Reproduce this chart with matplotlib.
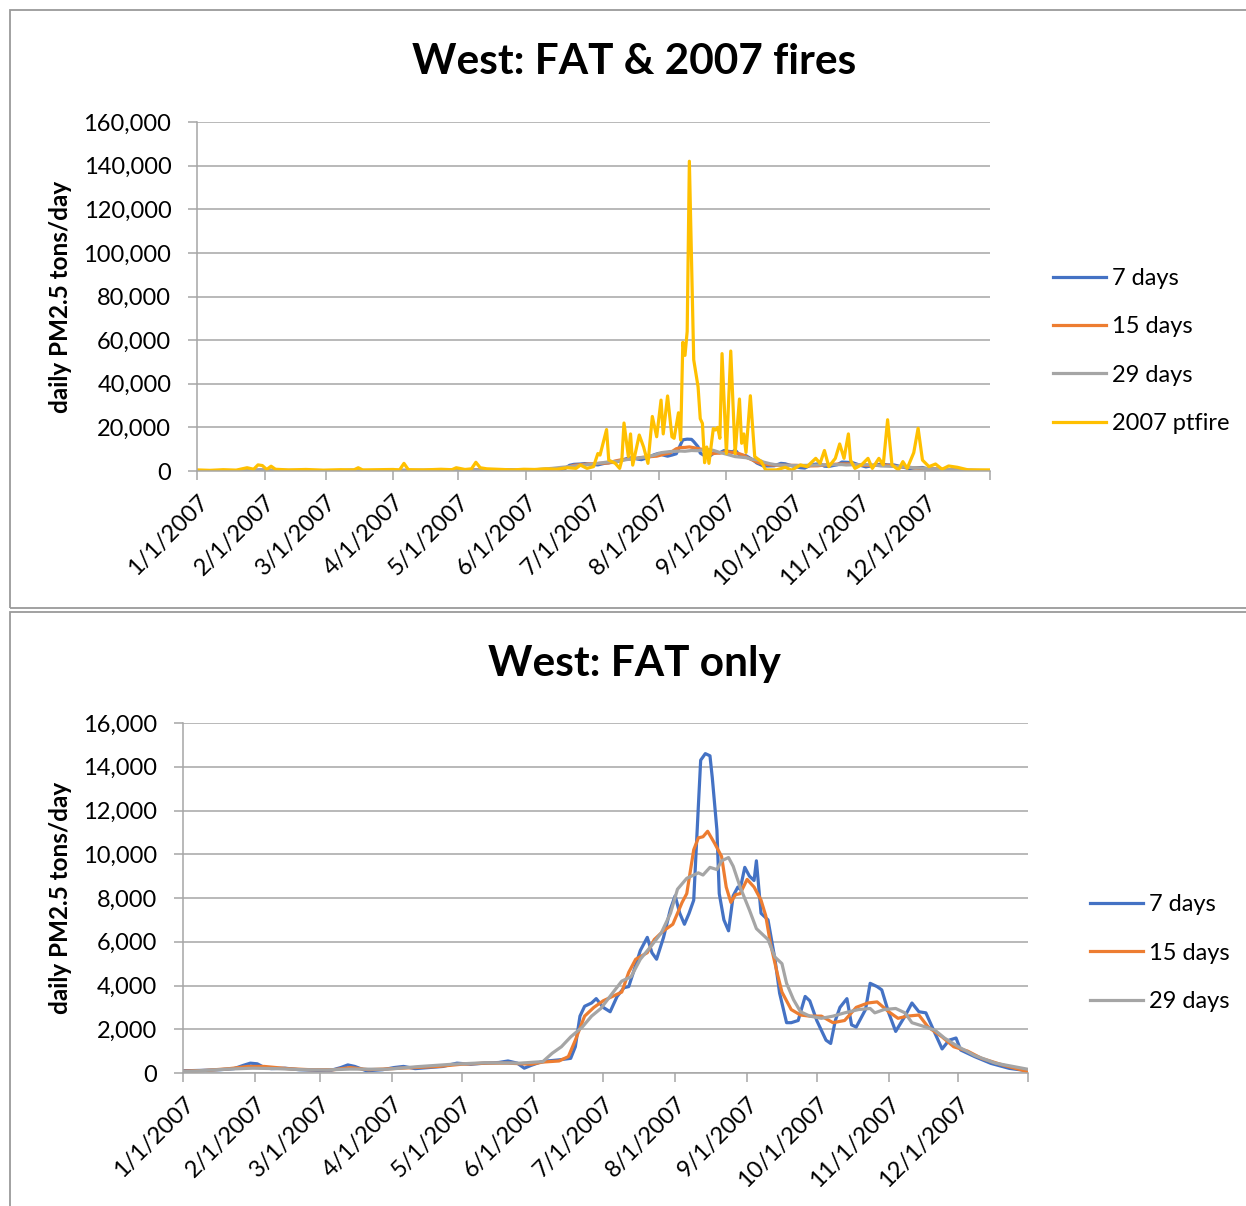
import numpy as np
import matplotlib.pyplot as plt
from matplotlib.patches import Rectangle
from matplotlib.ticker import FuncFormatter, MultipleLocator

plt.rcParams['font.family'] = ['Lato', 'DejaVu Sans']

# x positions are day offsets from 1/1/2007, values in thousand tons/day
month_days = [0, 31, 59, 90, 120, 151, 181, 212, 243, 273, 304, 334]
month_labels = ['1/1/2007', '2/1/2007', '3/1/2007', '4/1/2007', '5/1/2007', '6/1/2007',
                '7/1/2007', '8/1/2007', '9/1/2007', '10/1/2007', '11/1/2007', '12/1/2007']
last_day = 364

days7 = [0, 8, 16, 22, 26, 29, 32, 35, 38, 44, 50, 58, 64, 68, 71, 74, 79, 86, 91, 95,
         100, 106, 112, 118, 124, 130, 136, 140, 144, 147, 150, 154, 157, 162, 167, 169, 171, 173, 176, 178,
         181, 184, 187, 190, 192, 194, 197, 200, 202, 204, 207, 210, 212, 214, 216, 218, 220, 222, 223, 225,
         227, 228, 230, 231, 233, 235, 237, 239, 240, 242, 244, 246, 247, 249, 252, 255, 257, 260, 262, 265,
         268, 270, 273, 277, 279, 281, 283, 286, 288, 290, 294, 296, 299, 301, 304, 307, 311, 314, 317, 320,
         324, 327, 330, 333, 335, 341, 348, 356, 364]
fat7 = [0.10, 0.12, 0.15, 0.20, 0.35, 0.45, 0.42, 0.25, 0.20, 0.22, 0.15, 0.12, 0.13, 0.25, 0.37, 0.30, 0.10, 0.15, 0.25, 0.30,
        0.20, 0.25, 0.30, 0.45, 0.40, 0.45, 0.48, 0.55, 0.45, 0.22, 0.35, 0.50, 0.55, 0.60, 0.67, 1.2, 2.6, 3.05, 3.2, 3.4,
        3.0, 2.8, 3.5, 3.9, 3.95, 4.6, 5.6, 6.2, 5.5, 5.2, 6.2, 7.5, 8.1, 7.3, 6.8, 7.3, 7.9, 12.2, 14.3, 14.6,
        14.5, 13.5, 11.1, 8.2, 7.0, 6.5, 8.1, 8.5, 8.4, 9.4, 9.0, 8.8, 9.7, 7.3, 7.0, 5.2, 3.65, 2.3, 2.3, 2.4,
        3.5, 3.3, 2.4, 1.5, 1.35, 2.4, 3.0, 3.4, 2.2, 2.1, 2.9, 4.1, 3.95, 3.8, 2.75, 1.9, 2.6, 3.2, 2.8, 2.75,
        1.8, 1.1, 1.5, 1.6, 1.05, 0.75, 0.44, 0.21, 0.10]

days15 = [0, 10, 20, 28, 35, 45, 55, 65, 72, 80, 90, 100, 110, 120, 130, 140, 150, 155, 162, 166,
          169, 173, 177, 181, 185, 189, 192, 195, 200, 203, 207, 211, 215, 217, 220, 222, 224, 226, 229, 232,
          234, 236, 238, 240, 243, 246, 249, 251, 253, 256, 258, 262, 266, 270, 275, 280, 285, 290, 295, 299,
          304, 308, 312, 317, 321, 327, 332, 338, 344, 353, 364]
fat15 = [0.08, 0.12, 0.20, 0.30, 0.30, 0.20, 0.15, 0.15, 0.25, 0.15, 0.20, 0.25, 0.30, 0.40, 0.45, 0.45, 0.40, 0.50, 0.55, 0.75,
         1.5, 2.6, 3.0, 3.3, 3.5, 3.7, 4.6, 5.2, 5.5, 6.1, 6.5, 6.8, 7.8, 8.2, 10.2, 10.75, 10.8, 11.05, 10.5, 9.9,
         8.5, 7.8, 8.15, 8.2, 8.85, 8.5, 7.9, 7.2, 5.95, 4.55, 3.7, 2.9, 2.65, 2.6, 2.6, 2.3, 2.4, 3.0, 3.2, 3.25,
         2.8, 2.5, 2.6, 2.65, 2.1, 1.65, 1.2, 1.0, 0.67, 0.37, 0.06]

days29 = [0, 10, 20, 30, 40, 52, 62, 72, 88, 101, 116, 130, 145, 152, 155, 159, 163, 167, 172, 176,
          180, 185, 189, 193, 197, 202, 206, 210, 213, 217, 222, 224, 227, 230, 232, 235, 237, 240, 244, 247,
          252, 255, 258, 260, 263, 266, 270, 275, 280, 285, 291, 296, 298, 302, 307, 311, 314, 320, 324, 328,
          334, 341, 350, 364]
fat29 = [0.06, 0.12, 0.18, 0.22, 0.20, 0.15, 0.14, 0.18, 0.17, 0.29, 0.40, 0.47, 0.45, 0.50, 0.52, 0.9, 1.2, 1.65, 2.1, 2.6,
         2.95, 3.65, 4.2, 4.4, 5.2, 5.85, 6.4, 7.3, 8.4, 8.9, 9.15, 9.05, 9.4, 9.3, 9.7, 9.85, 9.45, 8.5, 7.45, 6.6,
         6.1, 5.3, 5.0, 4.1, 3.35, 2.8, 2.6, 2.5, 2.6, 2.75, 2.9, 2.95, 2.75, 2.9, 2.95, 2.75, 2.3, 2.1, 1.95, 1.6,
         1.2, 0.8, 0.45, 0.17]

days_pt = [0, 6, 12, 18, 23, 26, 28, 30, 32, 34, 36, 42, 50, 58, 66, 72, 74, 76, 84, 90,
           93, 95, 97, 104, 112, 117, 119, 123, 126, 128, 130, 133, 138, 145, 150, 155, 160, 165, 170, 174,
           176, 179, 182, 184, 185, 188, 189, 192, 194, 195, 196, 198, 199, 200, 203, 205, 207, 209, 211, 213,
           214, 216, 218, 219, 221, 222, 223, 224, 225, 226, 228, 230, 231, 232, 233, 234, 235, 237, 238, 239,
           240, 241, 243, 245, 247, 249, 250, 251, 252, 254, 256, 259, 261, 266, 270, 273, 277, 280, 284, 286,
           288, 290, 293, 295, 297, 299, 300, 302, 305, 308, 310, 313, 315, 317, 319, 322, 324, 326, 329, 331,
           333, 336, 339, 342, 345, 349, 354, 364]
ptfire = [0.5, 0.3, 0.6, 0.4, 1.5, 0.8, 2.8, 2.5, 0.7, 2.2, 0.8, 0.5, 0.7, 0.4, 0.6, 0.5, 1.5, 0.5, 0.6, 0.7,
          0.5, 3.5, 0.6, 0.5, 0.8, 0.6, 1.5, 0.7, 1.0, 4.0, 1.5, 1.0, 0.8, 0.5, 0.8, 0.7, 1.0, 0.8, 1.5, 1.2,
          2.7, 1.2, 2.0, 8.0, 7.3, 19.0, 5.0, 3.5, 1.2, 5.0, 22.0, 6.6, 17.0, 2.7, 16.5, 11.0, 3.5, 25.0, 15.7, 32.5,
          17.0, 34.4, 15.7, 15.0, 26.7, 14.2, 59.0, 53.0, 64.0, 142.0, 51.0, 38.6, 24.0, 21.8, 3.8, 11.0, 3.5, 19.5, 18.8, 20.0,
          15.0, 53.8, 8.0, 55.0, 8.0, 33.0, 12.7, 17.0, 8.5, 34.5, 6.6, 4.3, 0.5, 0.5, 1.7, 0.4, 2.8, 2.0, 5.8, 3.5,
          9.4, 2.0, 5.8, 12.4, 5.8, 17.0, 5.0, 1.2, 2.8, 5.8, 1.2, 5.8, 2.8, 23.5, 2.8, 0.5, 4.3, 1.2, 8.4, 19.6,
          5.0, 2.0, 3.2, 0.8, 2.3, 1.7, 0.5, 0.5]

BLUE, ORANGE, GRAY, GOLD = '#4472C4', '#ED7D31', '#A5A5A5', '#FFC000'
GRID = '#A6A6A6'
LW = 2.3

W, H = 1246, 1206
fig = plt.figure(figsize=(W / 100, H / 100), dpi=100)


def px_axes(left, top, right, bottom):
    return fig.add_axes([left / W, 1 - bottom / H, (right - left) / W, (bottom - top) / H])


def style_axes(ax, ymax, ystep):
    ax.set_xlim(0, last_day)
    ax.set_ylim(0, ymax)
    ax.yaxis.set_major_locator(MultipleLocator(ystep))
    ax.yaxis.set_major_formatter(FuncFormatter(lambda v, p: f'{v:,.0f}'))
    ax.set_xticks(month_days + [last_day])
    ax.set_xticklabels(month_labels + [''], rotation=45, ha='right', va='top',
                       rotation_mode='anchor', fontsize=17)
    ax.grid(axis='y', color=GRID, lw=1.1)
    ax.set_axisbelow(True)
    for s in ['top', 'right']:
        ax.spines[s].set_visible(False)
    for s in ['left', 'bottom']:
        ax.spines[s].set_color(GRID)
        ax.spines[s].set_linewidth(1.1)
    ax.tick_params(axis='both', direction='out', length=6.5, width=1.1, color=GRID)
    ax.tick_params(axis='y', labelsize=17, pad=12)
    ax.tick_params(axis='x', pad=8)
    ax.set_ylabel('daily PM2.5 tons/day', fontsize=17.5, fontweight='bold')


# panel frames
fig.add_artist(Rectangle((10 / W, 1 - 608 / H), 1.2, 598 / H, transform=fig.transFigure,
                         fill=False, edgecolor='#9a9a9a', lw=1.3))
fig.add_artist(Rectangle((10 / W, -0.1), 1.2, 0.1 + 1 - 612 / H, transform=fig.transFigure,
                         fill=False, edgecolor='#9a9a9a', lw=1.3))

legend_kw = dict(loc='center left', frameon=False, fontsize=17, handlelength=2.25,
                 handletextpad=0.25, labelspacing=1.16, borderpad=0, borderaxespad=0)

# top panel
ax1 = px_axes(197, 122, 990, 471)
k = 1000
ax1.plot(days7, np.array(fat7) * k, color=BLUE, lw=LW, label='7 days')
ax1.plot(days15, np.array(fat15) * k, color=ORANGE, lw=LW, label='15 days')
ax1.plot(days29, np.array(fat29) * k, color=GRAY, lw=LW, label='29 days')
ax1.plot(days_pt, np.array(ptfire) * k, color=GOLD, lw=LW, label='2007 ptfire')
style_axes(ax1, 160000, 20000)
ax1.yaxis.set_label_coords(72 / W, 1 - 297 / H, transform=fig.transFigure)
fig.text(634 / W, 1 - 62 / H, 'West: FAT & 2007 fires', ha='center', va='center',
         fontsize=30.5, fontweight='bold')
fig.legend(handles=ax1.get_lines(), bbox_to_anchor=(1053 / W, 1 - 351 / H), **legend_kw)

# bottom panel
ax2 = px_axes(183, 723, 1028, 1073)
ax2.plot(days7, np.array(fat7) * k, color=BLUE, lw=LW, label='7 days')
ax2.plot(days15, np.array(fat15) * k, color=ORANGE, lw=LW, label='15 days')
ax2.plot(days29, np.array(fat29) * k, color=GRAY, lw=LW, label='29 days')
style_axes(ax2, 16000, 2000)
ax2.yaxis.set_label_coords(72 / W, 1 - 898 / H, transform=fig.transFigure)
fig.text(634 / W, 1 - 664 / H, 'West: FAT only', ha='center', va='center',
         fontsize=30.5, fontweight='bold')
fig.legend(handles=ax2.get_lines(), bbox_to_anchor=(1090 / W, 1 - 953 / H), **legend_kw)

fig.savefig('out.png', dpi=100)
